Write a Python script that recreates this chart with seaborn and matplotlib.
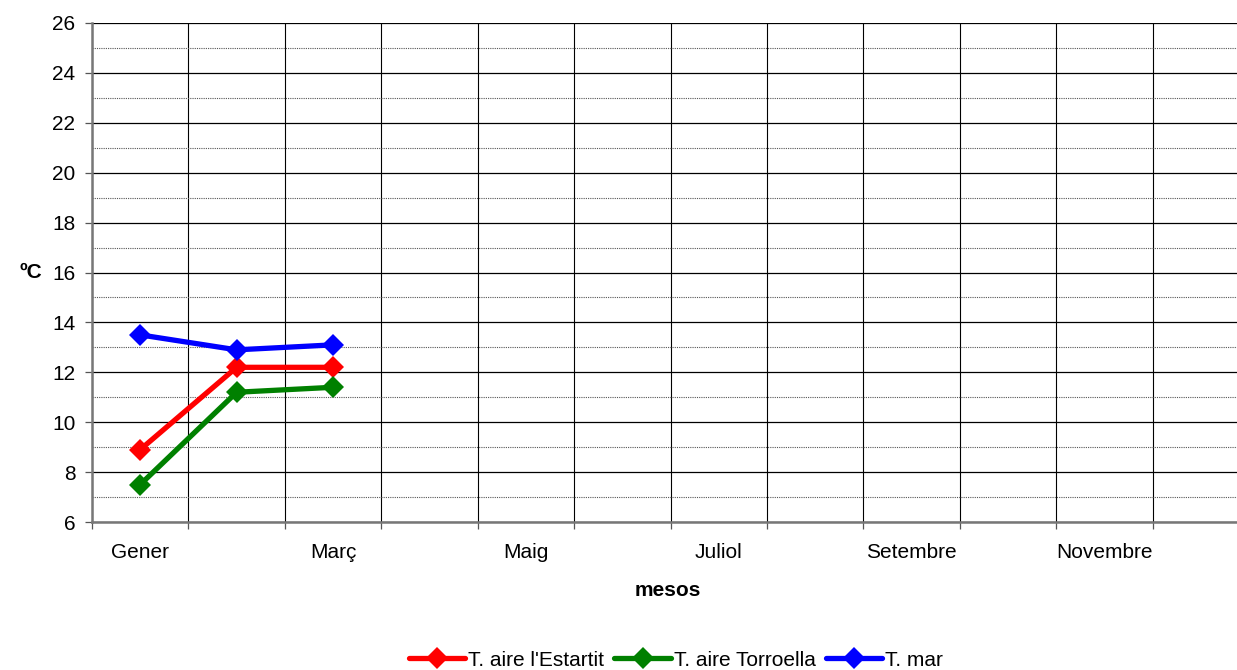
import matplotlib
matplotlib.use("Agg")
import matplotlib.pyplot as plt
import seaborn as sns
import pandas as pd
import numpy as np
from matplotlib.ticker import MultipleLocator

months = ["Gener", "Febrer", "Març", "Abril", "Maig", "Juny", "Juliol",
          "Agost", "Setembre", "Octubre", "Novembre", "Desembre"]
series_names = ["T. aire l'Estartit", "T. aire Torroella", "T. mar"]
t_estartit = [8.9, 12.2, 12.2]
t_torroella = [7.5, 11.2, 11.4]
t_mar = [13.5, 12.9, 13.1]
colors = ["#ff0000", "#008000", "#0000ff"]

rows = []
for name, vals in zip(series_names, [t_estartit, t_torroella, t_mar]):
    for i, v in enumerate(vals):
        rows.append({"mes": i, "valor": v, "serie": name})
df = pd.DataFrame(rows)

sns.set_theme(style="white")
plt.rcParams['font.family'] = ['Liberation Sans', 'DejaVu Sans']
plt.rcParams['text.color'] = 'black'
plt.rcParams['axes.labelcolor'] = 'black'
plt.rcParams['xtick.color'] = 'black'
plt.rcParams['ytick.color'] = 'black'

FS = 15
fig = plt.figure(figsize=(12.37, 6.70), dpi=100)
ax = fig.add_axes([92/1237, (670-522)/670, 1157/1237, 499/670])

sns.lineplot(data=df, x="mes", y="valor", hue="serie", hue_order=series_names,
             palette=colors, marker="D", markersize=11, linewidth=3.8,
             markeredgewidth=0, ax=ax, legend=True)

ax.set_xlim(-0.5, 11.5)
ax.set_ylim(6, 26)
ax.yaxis.set_major_locator(MultipleLocator(2))
ax.yaxis.set_minor_locator(MultipleLocator(1))
ax.set_xticks(np.arange(0, 12, 2))
ax.set_xticklabels(months[::2])
ax.set_xticks(np.arange(-0.5, 12, 1), minor=True)

ax.grid(False)
ax.grid(axis='y', which='major', color='black', linewidth=0.9, linestyle='-')
ax.grid(axis='y', which='minor', color='#555555', linewidth=0.8, linestyle=(0, (1, 1)))
ax.grid(axis='x', which='minor', color='black', linewidth=0.8, linestyle='-')
ax.set_axisbelow(True)

ax.tick_params(axis='x', which='major', length=0, labelsize=FS, pad=15, labelcolor='black')
ax.tick_params(axis='x', which='minor', length=5, width=0.9, color='#555555', bottom=True)
ax.tick_params(axis='y', which='major', length=5, width=0.9, labelsize=FS, pad=7,
               color='#555555', left=True, labelcolor='black')
ax.tick_params(axis='y', which='minor', length=0)

for s in ['top', 'right']:
    ax.spines[s].set_visible(False)
for s in ['left', 'bottom']:
    ax.spines[s].set_color('#777777')
    ax.spines[s].set_linewidth(1.8)

ax.set_xlabel("mesos", fontsize=FS, fontweight='bold', va='center', color='black')
ax.xaxis.set_label_coords((668-92)/1157, (522-591)/499)
ax.set_ylabel("ºC", fontsize=FS, fontweight='bold', rotation=0, va='center', ha='center', color='black')
ax.yaxis.set_label_coords((31-92)/1157, (522-272)/499)

handles, labels = ax.get_legend_handles_labels()
leg = ax.legend(handles, labels, loc='center', bbox_to_anchor=(676/1237, 1 - 660/670),
                bbox_transform=fig.transFigure, ncol=3, frameon=False, fontsize=FS,
                handlelength=2.7, handletextpad=0.15, columnspacing=0.5, borderpad=0)
for t in leg.get_texts():
    t.set_color('black')

fig.savefig("out.png", dpi=100)
